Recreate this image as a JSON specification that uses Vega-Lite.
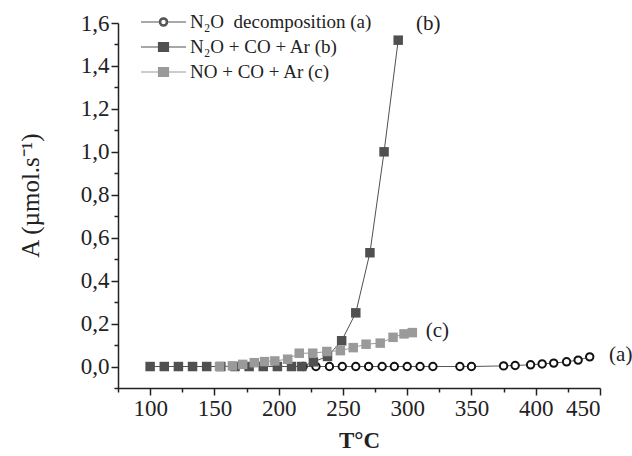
{
  "$schema": "https://vega.github.io/schema/vega-lite/v6.json",
  "width": 482,
  "height": 365,
  "autosize": "none",
  "padding": {"left": 118, "top": 23, "right": 32, "bottom": 68},
  "background": "white",
  "config": {
    "view": {"stroke": null},
    "font": "Liberation Serif",
    "locale": {"number": {"decimal": ",", "thousands": " ", "grouping": [3], "currency": ["", ""]}},
    "axis": {"grid": false, "domainColor": "#222", "tickColor": "#222", "labelColor": "#222", "titleColor": "#222", "domainWidth": 1.5, "tickWidth": 1.5, "labelFont": "Liberation Serif", "titleFont": "Liberation Serif"}
  },
  "data": {
    "values": [
      {"s": "a", "T": 219, "A": 0}, {"s": "a", "T": 229, "A": 0}, {"s": "a", "T": 239.5, "A": 0}, {"s": "a", "T": 249.5, "A": 0},
      {"s": "a", "T": 260, "A": 0}, {"s": "a", "T": 270, "A": 0}, {"s": "a", "T": 280.5, "A": 0}, {"s": "a", "T": 290, "A": 0},
      {"s": "a", "T": 300, "A": 0}, {"s": "a", "T": 310, "A": 0}, {"s": "a", "T": 320, "A": 0}, {"s": "a", "T": 341, "A": 0},
      {"s": "a", "T": 350, "A": 0}, {"s": "a", "T": 375, "A": 0.003}, {"s": "a", "T": 384, "A": 0.005}, {"s": "a", "T": 396, "A": 0.008},
      {"s": "a", "T": 405, "A": 0.012}, {"s": "a", "T": 414, "A": 0.016}, {"s": "a", "T": 424, "A": 0.022}, {"s": "a", "T": 433, "A": 0.03},
      {"s": "a", "T": 442, "A": 0.045},
      {"s": "b", "T": 100, "A": 0}, {"s": "b", "T": 111, "A": 0}, {"s": "b", "T": 122, "A": 0}, {"s": "b", "T": 133, "A": 0},
      {"s": "b", "T": 144, "A": 0}, {"s": "b", "T": 155, "A": 0}, {"s": "b", "T": 166, "A": 0}, {"s": "b", "T": 177, "A": 0},
      {"s": "b", "T": 188, "A": 0}, {"s": "b", "T": 199, "A": 0}, {"s": "b", "T": 210, "A": 0}, {"s": "b", "T": 218, "A": 0},
      {"s": "b", "T": 227, "A": 0.022}, {"s": "b", "T": 238, "A": 0.047}, {"s": "b", "T": 249, "A": 0.12}, {"s": "b", "T": 260, "A": 0.25},
      {"s": "b", "T": 271, "A": 0.53}, {"s": "b", "T": 282, "A": 1.0}, {"s": "b", "T": 293, "A": 1.52},
      {"s": "c", "T": 154, "A": 0}, {"s": "c", "T": 164, "A": 0.003}, {"s": "c", "T": 172, "A": 0.01}, {"s": "c", "T": 181, "A": 0.018},
      {"s": "c", "T": 189, "A": 0.023}, {"s": "c", "T": 197, "A": 0.026}, {"s": "c", "T": 207, "A": 0.034}, {"s": "c", "T": 216, "A": 0.062},
      {"s": "c", "T": 226.5, "A": 0.062}, {"s": "c", "T": 237.5, "A": 0.07}, {"s": "c", "T": 248, "A": 0.074}, {"s": "c", "T": 258, "A": 0.088},
      {"s": "c", "T": 268, "A": 0.104}, {"s": "c", "T": 279, "A": 0.109}, {"s": "c", "T": 289, "A": 0.136}, {"s": "c", "T": 297.5, "A": 0.152},
      {"s": "c", "T": 304, "A": 0.158}
    ]
  },
  "resolve": {"scale": {"x": "independent", "y": "independent"}},
  "layer": [
    {
      "mark": {"type": "point", "opacity": 0},
      "encoding": {
        "x": {
          "field": "T", "type": "quantitative",
          "scale": {"domain": [75, 450], "nice": false, "zero": false},
          "axis": {"orient": "bottom", "title": null, "values": [75, 125, 175, 225, 275, 325, 375, 425], "labels": false, "domain": false, "tickSize": 4}
        },
        "y": {
          "field": "A", "type": "quantitative",
          "scale": {"domain": [-0.1, 1.6], "nice": false, "zero": false},
          "axis": {"orient": "left", "title": null, "values": [-0.1, 0.1, 0.3, 0.5, 0.7, 0.9, 1.1, 1.3, 1.5], "labels": false, "domain": false, "tickSize": 4}
        }
      }
    },
    {
      "layer": [
        {
          "mark": {"type": "line", "strokeWidth": 1},
          "encoding": {
            "x": {
              "field": "T", "type": "quantitative",
              "scale": {"domain": [75, 450], "nice": false, "zero": false},
              "axis": {
                "orient": "bottom",
                "title": "T°C",
                "values": [100, 150, 200, 250, 300, 350, 400, 450],
                "format": "d",
                "tickSize": 7,
                "labelFont": "Liberation Serif",
                "labelFontSize": 23, "labelPadding": 2,
                "titleFont": "Liberation Serif",
                "titleFontSize": 23, "titleFontWeight": "bold", "titleY": 52, "titleBaseline": "middle"
              }
            },
            "y": {
              "field": "A", "type": "quantitative",
              "scale": {"domain": [-0.1, 1.6], "nice": false, "zero": false},
              "axis": {
                "orient": "left",
                "title": "A (µmol.s⁻¹)",
                "values": [0, 0.2, 0.4, 0.6, 0.8, 1.0, 1.2, 1.4, 1.6],
                "format": ".1f",
                "tickSize": 7,
                "labelFont": "Liberation Serif",
                "labelFontSize": 23, "labelPadding": 2,
                "titleFont": "Liberation Serif",
                "titleFontSize": 25, "titleFontWeight": "normal", "titleAngle": -90, "titleX": -88, "titleY": 172, "titleBaseline": "middle", "titleAlign": "center"
              }
            },
            "color": {
              "field": "s", "type": "nominal",
              "scale": {"domain": ["a", "b", "c"], "range": ["#555555", "#505050", "#9a9a9a"]},
              "legend": {
                "title": null,
                "orient": "none",
                "legendX": 47,
                "legendY": -12,
                "padding": 0,
                "symbolSize": 400,
                "labelOffset": 3,
                "rowPadding": 4,
                "labelFontSize": 19,
                "labelFont": "Liberation Serif",
                "labelColor": "#222",
                "labelLimit": 400,
                "labelExpr": "datum.value === 'a' ? 'N₂O\u00a0 decomposition (a)' : datum.value === 'b' ? 'N₂O + CO + Ar (b)' : 'NO + CO + Ar (c)'",
                "encode": {
                  "symbols": {
                    "update": {
                      "shape": {"signal": "datum.value === 'a' ? 'M-3.5,0H-1.7M-0.8,0H1M-0.83,0A0.42,0.42,0,1,1,-1.67,0A0.42,0.42,0,1,1,-0.83,0ZM-0.97,0A0.28,0.28,0,1,0,-1.53,0A0.28,0.28,0,1,0,-0.97,0Z' : 'M-3.5,0H1M-1.75,-0.45H-0.75V0.45H-1.75Z'"},
                      "strokeWidth": {"value": 1.2},
                      "opacity": {"value": 1},
                      "fillOpacity": {"value": 1}
                    }
                  }
                }
              }
            }
          }
        },
        {
          "transform": [{"filter": "datum.s === 'a'"}],
          "mark": {"type": "point", "shape": "circle", "size": 55, "strokeWidth": 2, "filled": true, "fill": "white", "stroke": "#111", "opacity": 1},
          "encoding": {
            "x": {"field": "T", "type": "quantitative"},
            "y": {"field": "A", "type": "quantitative"}
          }
        },
        {
          "transform": [{"filter": "datum.s !== 'a'"}],
          "mark": {"type": "square", "size": 90, "opacity": 1},
          "encoding": {
            "x": {"field": "T", "type": "quantitative"},
            "y": {"field": "A", "type": "quantitative"},
            "color": {"field": "s", "type": "nominal", "legend": null}
          }
        },
        {
          "transform": [{"filter": "datum.s === 'b' && datum.T === 293"}],
          "mark": {"type": "text", "text": "(b)", "dx": 30, "dy": -16, "fontSize": 21, "font": "Liberation Serif", "color": "#222", "align": "center", "baseline": "middle"},
          "encoding": {
            "x": {"field": "T", "type": "quantitative"},
            "y": {"field": "A", "type": "quantitative"}
          }
        },
        {
          "transform": [{"filter": "datum.s === 'c' && datum.T === 304"}],
          "mark": {"type": "text", "text": "(c)", "dx": 25, "dy": -2, "fontSize": 21, "font": "Liberation Serif", "color": "#222", "align": "center", "baseline": "middle"},
          "encoding": {
            "x": {"field": "T", "type": "quantitative"},
            "y": {"field": "A", "type": "quantitative"}
          }
        },
        {
          "transform": [{"filter": "datum.s === 'a' && datum.T === 442"}],
          "mark": {"type": "text", "text": "(a)", "dx": 31, "dy": -2, "fontSize": 21, "font": "Liberation Serif", "color": "#222", "align": "center", "baseline": "middle"},
          "encoding": {
            "x": {"field": "T", "type": "quantitative"},
            "y": {"field": "A", "type": "quantitative"}
          }
        }
      ]
    }
  ]
}
